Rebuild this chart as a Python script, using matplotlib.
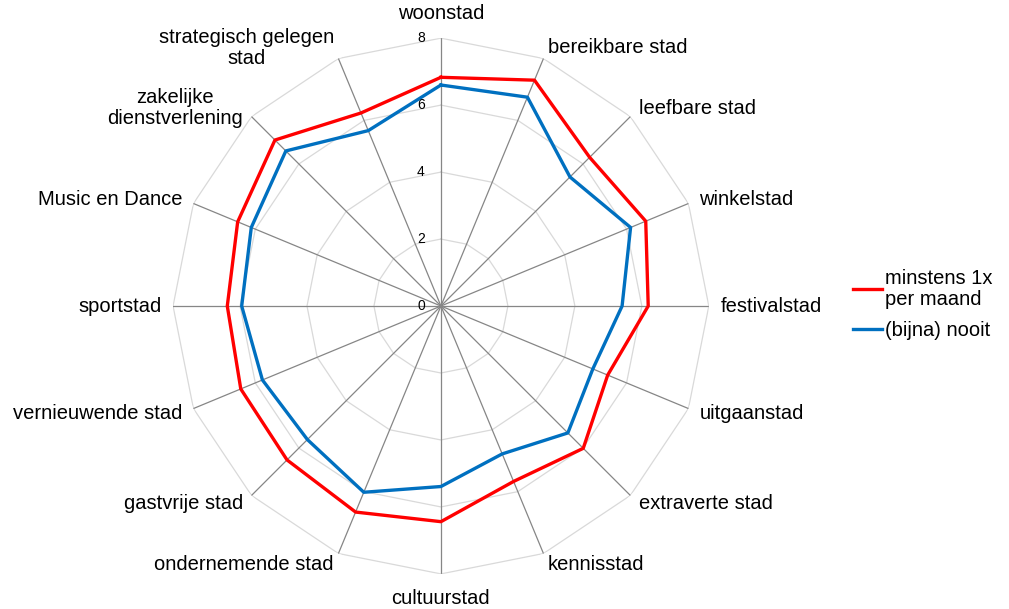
import numpy as np
import matplotlib
matplotlib.use("Agg")
import matplotlib.pyplot as plt
from matplotlib.transforms import offset_copy

plt.rcParams["font.family"] = ["Liberation Sans", "DejaVu Sans"]

categories = [
    "woonstad", "bereikbare stad", "leefbare stad", "winkelstad",
    "festivalstad", "uitgaanstad", "extraverte stad", "kennisstad",
    "cultuurstad", "ondernemende stad", "gastvrije stad", "vernieuwende stad",
    "sportstad", "Music en Dance", "zakelijke\ndienstverlening",
    "strategisch gelegen\nstad",
]
maandelijks = [6.83, 7.30, 6.28, 6.62, 6.19, 5.39, 6.01, 5.67,
               6.44, 6.66, 6.50, 6.47, 6.38, 6.57, 7.01, 6.24]
nooit = [6.60, 6.75, 5.45, 6.13, 5.41, 4.91, 5.36, 4.78,
         5.39, 6.02, 5.64, 5.77, 5.95, 6.13, 6.55, 5.67]
series_names = ["minstens 1x\nper maand", "(bijna) nooit"]
ticks = [0, 2, 4, 6, 8]

n = len(categories)
theta = np.arange(n) * 2 * np.pi / n
closed = np.append(theta, theta[0])
FS = 14.5

fig = plt.figure(figsize=(10.09, 6.09), dpi=100)
ax = fig.add_axes([0.1715, 0.0575, 0.531, 0.880], projection="polar")
ax.set_theta_zero_location("N")
ax.set_theta_direction(-1)
ax.set_ylim(0, 8)
ax.grid(False)
ax.set_xticks([])
ax.set_yticks([])
ax.spines["polar"].set_visible(False)

# polygon rings and spokes
for t in ticks[1:]:
    ax.plot(closed, [t] * (n + 1), color="#d9d9d9", lw=0.9, zorder=1)
for th in theta:
    ax.plot([th, th], [0, 8], color="#868686", lw=0.9, zorder=2)

l1, = ax.plot(closed, maandelijks + maandelijks[:1], color="#ff0000", lw=2.4, zorder=4)
l2, = ax.plot(closed, nooit + nooit[:1], color="#0070c0", lw=2.4, zorder=3)

# radial tick labels left of the top axis
tr = offset_copy(ax.transData, fig=fig, x=-20, y=0, units="dots")
for t in ticks:
    ax.text(0, t, str(t), transform=tr, ha="center", va="center",
            fontsize=10, color="#000000")

# category labels
for th, lab in zip(theta, categories):
    s, c = np.sin(th), np.cos(th)
    if abs(s) < 1e-6:
        ax.text(th, 8.45, lab, ha="center", va="bottom" if c > 0 else "top",
                fontsize=FS, multialignment="center", linespacing=1.15)
    else:
        ax.text(th, 8.35, lab, ha="left" if s > 0 else "right", va="center",
                fontsize=FS, multialignment="center", linespacing=1.15)

leg = fig.legend([l1, l2], series_names, loc="center left",
                 bbox_to_anchor=(0.827, 0.5), frameon=False, fontsize=FS,
                 handlelength=1.45, handletextpad=0.15, labelspacing=0.6)
for txt in leg.get_texts():
    txt.set_linespacing(1.15)

fig.savefig("out.png", dpi=100)
